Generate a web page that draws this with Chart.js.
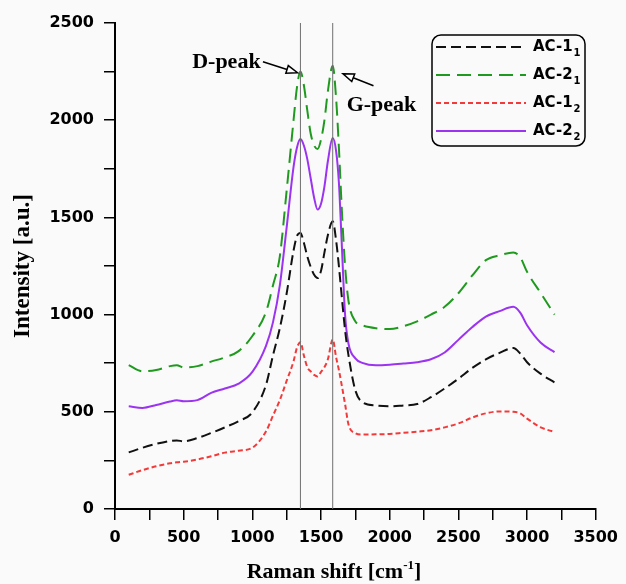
<!DOCTYPE html>
<html>
<head>
<meta charset="utf-8">
<script src="https://cdn.jsdelivr.net/npm/chart.js@4"></script>
<style>
  html, body { margin: 0; padding: 0; background: #fafafa; }
  #wrap { width: 626px; height: 584px; }
</style>
</head>
<body>
<div id="wrap"><canvas id="ramanChart" width="626" height="584"></canvas></div>
<script>
// Raman shift positions (cm-1)
const ramanShift = [100, 200, 300, 400, 450, 500, 600, 700, 800, 900, 1000, 1100, 1150, 1200, 1250, 1300, 1325, 1350, 1375, 1400,
    1425, 1450, 1475, 1500, 1525, 1550, 1585, 1610, 1630, 1650, 1675, 1700, 1750, 1800, 1900, 2000, 2100, 2200, 2300, 2400,
    2500, 2600, 2700, 2800, 2900, 2950, 3000, 3100, 3200];

const ac1_1 = [291, 315, 335, 350, 353, 348, 365, 391, 420, 452, 497, 640, 790, 930, 1110, 1330, 1405, 1420, 1370, 1300,
    1245, 1205, 1188, 1225, 1320, 1410, 1480, 1380, 1250, 1100, 920, 790, 610, 550, 532, 528, 533, 540, 575, 620,
    670, 725, 770, 803, 828, 800, 755, 695, 651];
const ac2_1 = [740, 708, 715, 735, 740, 728, 735, 758, 780, 812, 890, 1015, 1150, 1300, 1640, 2000, 2170, 2250, 2180, 2050,
    1930, 1870, 1852, 1900, 2000, 2150, 2280, 2110, 1860, 1560, 1250, 1070, 965, 945, 930, 926, 940, 965, 1000, 1040,
    1110, 1200, 1280, 1305, 1320, 1295, 1220, 1110, 1000];
const ac1_2 = [176, 200, 220, 235, 240, 243, 255, 271, 290, 300, 315, 400, 480, 560, 660, 760, 830, 858, 790, 730,
    708, 690, 682, 705, 730, 770, 872, 780, 715, 640, 540, 435, 390, 383, 384, 386, 392, 398, 405, 420,
    440, 470, 492, 502, 500, 492, 465, 420, 396];
const ac2_2 = [528, 520, 535, 553, 559, 554, 560, 597, 620, 645, 705, 840, 960, 1150, 1450, 1760, 1860, 1903, 1870, 1800,
    1700, 1600, 1540, 1570, 1660, 1790, 1908, 1840, 1680, 1380, 1000, 850, 775, 752, 739, 742, 748, 755, 770, 805,
    870, 935, 990, 1018, 1040, 1010, 945, 855, 807];

// D and G band reference lines
const peakPositions = [1350, 1585];

const xTickLabels = [0, 500, 1000, 1500, 2000, 2500, 3000, 3500];
const yTickLabels = [0, 500, 1000, 1500, 2000, 2500];

const seriesNames = ['AC-1', 'AC-2', 'AC-1', 'AC-2'];
const seriesSubs = ['1', '1', '2', '2'];

function toPoints(ys) {
    return ramanShift.map((x, i) => ({ x: x, y: ys[i] }));
}

const curveStyles = [
    { data: ac1_1, color: '#111111', dash: [10, 5] },
    { data: ac2_1, color: '#1f9a1f', dash: [14, 7] },
    { data: ac1_2, color: '#f23a3a', dash: [5, 3] },
    { data: ac2_2, color: '#9b33f0', dash: [] }
];

const datasets = peakPositions.map(p => ({
    data: [{ x: p, y: 0 }, { x: p, y: 2500 }],
    borderColor: '#6f6f6f',
    borderWidth: 1,
    pointRadius: 0,
    tension: 0
}));

curveStyles.forEach((s, i) => {
    datasets.push({
        label: seriesNames[i] + seriesSubs[i],
        data: toPoints(s.data),
        borderColor: s.color,
        borderDash: s.dash,
        borderWidth: 2,
        pointRadius: 0,
        cubicInterpolationMode: 'monotone'
    });
});

// Legend box, peak labels and axis titles
const decorPlugin = {
    id: 'decor',
    afterDraw(chart) {
        const ctx = chart.ctx;
        const xs = chart.scales.x, ys = chart.scales.y;
        ctx.save();

        // legend
        ctx.lineWidth = 1.5;
        ctx.strokeStyle = '#000';
        ctx.beginPath();
        ctx.roundRect(432, 35, 153, 111, 9);
        ctx.stroke();
        const rowY = [47, 75, 103, 131];
        curveStyles.forEach((s, i) => {
            ctx.beginPath();
            ctx.setLineDash(s.dash);
            ctx.strokeStyle = s.color;
            ctx.lineWidth = 2;
            ctx.moveTo(436, rowY[i]);
            ctx.lineTo(526, rowY[i]);
            ctx.stroke();
            ctx.setLineDash([]);
            ctx.fillStyle = '#000';
            ctx.textBaseline = 'middle';
            ctx.textAlign = 'left';
            ctx.font = 'bold 15px "DejaVu Sans"';
            ctx.fillText(seriesNames[i], 533, rowY[i]);
            const w = ctx.measureText(seriesNames[i]).width;
            ctx.font = 'bold 10px "DejaVu Sans"';
            ctx.fillText(seriesSubs[i], 533 + w + 1, rowY[i] + 6);
        });

        // peak annotations
        function arrow(x1, y1, x2, y2) {
            const a = Math.atan2(y2 - y1, x2 - x1);
            const len = 11, half = 4;
            const bx = x2 - len * Math.cos(a), by = y2 - len * Math.sin(a);
            ctx.strokeStyle = '#000';
            ctx.lineWidth = 1.5;
            ctx.beginPath();
            ctx.moveTo(x1, y1);
            ctx.lineTo(bx, by);
            ctx.stroke();
            ctx.beginPath();
            ctx.moveTo(x2, y2);
            ctx.lineTo(bx - half * Math.sin(a), by + half * Math.cos(a));
            ctx.lineTo(bx + half * Math.sin(a), by - half * Math.cos(a));
            ctx.closePath();
            ctx.fillStyle = '#fff';
            ctx.fill();
            ctx.stroke();
        }
        ctx.fillStyle = '#000';
        ctx.font = 'bold 22px "Liberation Serif"';
        ctx.textAlign = 'center';
        ctx.textBaseline = 'middle';
        ctx.fillText('D-peak', xs.getPixelForValue(811), ys.getPixelForValue(2296));
        arrow(xs.getPixelForValue(1077), ys.getPixelForValue(2301), xs.getPixelForValue(1329), ys.getPixelForValue(2244));
        ctx.fillStyle = '#000';
        ctx.fillText('G-peak', xs.getPixelForValue(1940), ys.getPixelForValue(2075));
        arrow(xs.getPixelForValue(1882), ys.getPixelForValue(2177), xs.getPixelForValue(1660), ys.getPixelForValue(2239));

        // axis titles
        ctx.fillStyle = '#000';
        ctx.textAlign = 'left';
        ctx.textBaseline = 'alphabetic';
        const t1 = 'Raman shift [cm';
        const t2 = '-1';
        const t3 = ']';
        ctx.font = 'bold 22px "Liberation Serif"';
        const w1 = ctx.measureText(t1).width;
        const w3 = ctx.measureText(t3).width;
        ctx.font = 'bold 13px "Liberation Serif"';
        const w2 = ctx.measureText(t2).width;
        let sx = 334 - (w1 + w2 + w3) / 2;
        const base = 578;
        ctx.font = 'bold 22px "Liberation Serif"';
        ctx.fillText(t1, sx, base);
        ctx.font = 'bold 13px "Liberation Serif"';
        ctx.fillText(t2, sx + w1, base - 9);
        ctx.font = 'bold 22px "Liberation Serif"';
        ctx.fillText(t3, sx + w1 + w2, base);

        ctx.translate(29, (chart.chartArea.top + chart.chartArea.bottom) / 2);
        ctx.rotate(-Math.PI / 2);
        ctx.textAlign = 'center';
        ctx.font = 'bold 23px "Liberation Serif"';
        ctx.fillText('Intensity [a.u.]', 0, 0);
        ctx.restore();
    }
};

const ctx = document.getElementById('ramanChart').getContext('2d');
new Chart(ctx, {
    type: 'line',
    data: { datasets: datasets },
    options: {
        responsive: false,
        animation: false,
        layout: {
            autoPadding: false,
            padding: { left: 0, top: 23, right: 24, bottom: 0 }
        },
        plugins: {
            legend: { display: false },
            tooltip: { enabled: false }
        },
        scales: {
            x: {
                type: 'linear',
                min: 0,
                max: 3500,
                afterFit: scale => { scale.height = 75; },
                border: { color: '#000', width: 2 },
                grid: {
                    drawOnChartArea: false,
                    color: '#000',
                    lineWidth: 1.5,
                    tickLength: 11
                },
                ticks: {
                    stepSize: 250,
                    autoSkip: false,
                    maxRotation: 0,
                    padding: 8,
                    color: '#000',
                    font: { family: 'DejaVu Sans', weight: 'bold', size: 16 },
                    callback: v => xTickLabels.includes(v) ? String(v) : ''
                }
            },
            y: {
                min: 0,
                max: 2500,
                afterFit: scale => { scale.width = 115; },
                border: { color: '#000', width: 2 },
                grid: {
                    drawOnChartArea: false,
                    color: '#000',
                    lineWidth: 1.5,
                    tickLength: 11
                },
                ticks: {
                    stepSize: 250,
                    autoSkip: false,
                    padding: 10,
                    color: '#000',
                    font: { family: 'DejaVu Sans', weight: 'bold', size: 16 },
                    callback: v => yTickLabels.includes(v) ? String(v) : ''
                }
            }
        }
    },
    plugins: [decorPlugin]
});
</script>
</body>
</html>
